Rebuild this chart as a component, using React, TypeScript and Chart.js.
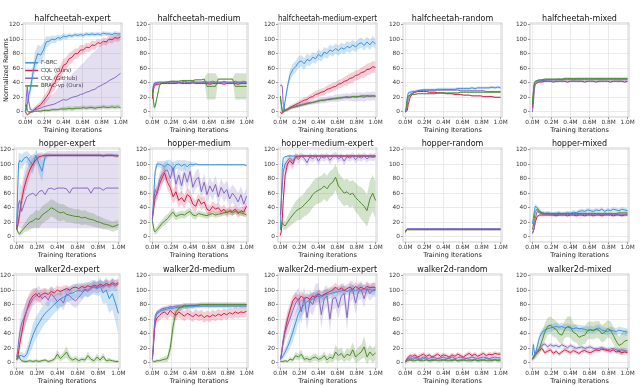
import React, { useEffect, useRef } from "react";
import { Chart, registerables } from "chart.js";
Chart.register(...registerables);

const FONT = "'DejaVu Sans', 'Liberation Sans', sans-serif";

// ---- shared axes data ----
const steps = [0, 0.01, 0.02, 0.03, 0.05, 0.075, 0.1, 0.13, 0.16, 0.19, 0.22, 0.25, 0.28, 0.31, 0.34, 0.37, 0.4, 0.43, 0.46, 0.49, 0.52, 0.55, 0.58, 0.61, 0.64, 0.67, 0.7, 0.73, 0.76, 0.79, 0.82, 0.85, 0.88, 0.91, 0.94, 0.97, 1.0];
const xTickValues = [0, 0.2, 0.4, 0.6, 0.8, 1.0];
const xTickLabels = ["0.0M", "0.2M", "0.4M", "0.6M", "0.8M", "1.0M"];
const yTickValues = [0, 20, 40, 60, 80, 100, 120];
const seriesNames = ["F-BRC", "CQL (Ours)", "CQL (GitHub)", "BRAC-vp (Ours)"];
const panelTitles = [
  "halfcheetah-expert", "halfcheetah-medium", "halfcheetah-medium-expert", "halfcheetah-random", "halfcheetah-mixed",
  "hopper-expert", "hopper-medium", "hopper-medium-expert", "hopper-random", "hopper-mixed",
  "walker2d-expert", "walker2d-medium", "walker2d-medium-expert", "walker2d-random", "walker2d-mixed",
];

// ---- shared band half-widths ----
const bandTight = [1, 1, 1, 1, 1, 1, 1, 1, 1, 1, 1, 1, 1, 1, 1, 1, 1, 1, 1, 1, 1, 1, 1, 1, 1, 1, 1, 1, 1, 1, 1, 1, 1, 1, 1, 1, 1];
const bandSmall = [2, 2, 2, 2, 2, 2, 2, 2, 2, 2, 2, 2, 2, 2, 2, 2, 2, 2, 2, 2, 2, 2, 2, 2, 2, 2, 2, 2, 2, 2, 2, 2, 2, 2, 2, 2, 2];
const bandMid = [3, 3, 3, 3, 3, 3, 3, 3, 3, 3, 3, 3, 3, 3, 3, 3, 3, 3, 3, 3, 3, 3, 3, 3, 3, 3, 3, 3, 3, 3, 3, 3, 3, 3, 3, 3, 3];
const bandEarly = [5, 4, 3, 2, 2, 1, 1, 1, 1, 1, 1, 1, 1, 1, 1, 1, 1, 1, 1, 1, 1, 1, 1, 1, 1, 1, 1, 1, 1, 1, 1, 1, 1, 1, 1, 1, 1];

// ---- halfcheetah-expert ----
const hcExpF = [0, 3, 10, 20, 30, 50, 68, 80, 78, 85, 96, 97, 100, 99, 102, 101, 104, 103, 105, 104, 106, 105, 106, 105, 107, 106, 107, 106, 107, 106, 108, 107, 107, 106, 108, 107, 107];
const hcExpFSd = [1, 3, 5, 8, 10, 12, 14, 12, 12, 10, 8, 6, 5, 5, 4, 4, 4, 4, 3, 3, 3, 3, 3, 3, 3, 3, 3, 3, 3, 3, 3, 3, 3, 3, 3, 3, 3];
const hcExpC = [0, -2, -4, -3, -1, 1, 4, 7, 10, 15, 20, 26, 35, 40, 50, 54, 64, 66, 73, 75, 80, 80, 85, 85, 89, 88, 92, 91, 95, 94, 97, 96, 100, 99, 102, 101, 103];
const hcExpCSd = [1, 2, 2, 2, 2, 2, 3, 4, 5, 6, 7, 8, 9, 10, 10, 10, 9, 9, 8, 8, 7, 7, 7, 6, 6, 6, 6, 6, 5, 5, 5, 5, 5, 5, 5, 5, 5];
const hcExpG = [0, 20, 35, 18, 4, 2, 3, 4, 5, 7, 8, 9, 10, 11, 13, 15, 17, 16, 18, 20, 21, 22, 24, 25, 27, 28, 30, 31, 34, 36, 38, 40, 43, 45, 47, 50, 53];
const hcExpGHi = [2, 5, 5, 5, 3, 3, 4, 5, 6, 8, 10, 12, 14, 16, 20, 22, 26, 28, 30, 32, 35, 37, 40, 42, 45, 48, 50, 52, 54, 56, 58, 58, 58, 58, 57, 55, 52];
const hcExpGLo = [1, 5, 5, 5, 3, 2, 2, 3, 3, 5, 6, 6, 7, 8, 10, 12, 14, 13, 15, 17, 18, 18, 20, 21, 23, 24, 26, 27, 29, 31, 33, 34, 36, 38, 40, 42, 44];
const hcExpB = [8, 10, 2, 0, 0, 0, 1, 1, 1, 2, 2, 2, 3, 3, 3, 4, 4, 4, 5, 4, 5, 5, 5, 6, 5, 6, 6, 5, 6, 6, 7, 6, 6, 7, 6, 7, 6];
const hcExpBSd = [2, 3, 2, 1, 1, 1, 1, 1, 2, 2, 2, 2, 2, 2, 2, 2, 3, 3, 3, 3, 3, 3, 3, 3, 3, 3, 3, 3, 3, 3, 3, 3, 3, 3, 3, 3, 3];

// ---- halfcheetah-medium ----
const hcMedF = [22, 35, 39, 40, 40, 41, 41, 40, 41, 41, 42, 41, 41, 41, 42, 41, 41, 42, 41, 41, 41, 42, 41, 41, 42, 41, 41, 41, 42, 41, 41, 41, 42, 41, 41, 42, 41];
const hcMedC = [18, 30, 35, 37, 38, 38, 39, 39, 39, 39, 39, 39, 40, 39, 39, 39, 39, 40, 39, 39, 39, 39, 39, 38, 39, 39, 39, 39, 38, 39, 39, 39, 39, 38, 39, 39, 39];
const hcMedG = [28, 34, 38, 39, 40, 40, 40, 40, 40, 40, 40, 40, 40, 40, 41, 40, 40, 40, 40, 40, 40, 40, 40, 40, 40, 40, 40, 40, 40, 40, 40, 40, 40, 40, 40, 40, 40];
const hcMedB = [30, 18, 6, 8, 20, 36, 40, 41, 41, 42, 42, 42, 42, 43, 43, 43, 43, 43, 44, 44, 44, 45, 35, 35, 35, 35, 45, 45, 45, 45, 45, 45, 35, 35, 35, 35, 35];
const hcMedBSd = [3, 5, 5, 5, 4, 2, 1, 1, 1, 1, 1, 1, 1, 1, 1, 1, 1, 1, 1, 1, 1, 1, 18, 18, 18, 18, 1, 1, 1, 1, 1, 1, 18, 18, 18, 18, 18];

// ---- halfcheetah-medium-expert ----
const hcMexF = [20, 10, 2, 0, 15, 35, 50, 58, 62, 68, 70, 66, 72, 70, 75, 73, 79, 76, 82, 80, 85, 83, 87, 84, 88, 86, 90, 88, 92, 89, 93, 95, 91, 96, 92, 97, 93];
const hcMexFSd = [5, 5, 3, 2, 5, 6, 8, 8, 8, 8, 8, 8, 8, 7, 7, 7, 7, 7, 7, 7, 7, 7, 7, 7, 7, 7, 7, 7, 7, 7, 7, 7, 7, 7, 7, 7, 7];
const hcMexC = [0, -2, -2, 0, 2, 4, 6, 8, 10, 12, 14, 16, 17, 20, 21, 24, 25, 27, 28, 31, 32, 34, 35, 38, 39, 42, 43, 46, 47, 50, 51, 54, 55, 58, 59, 62, 61];
const hcMexCSd = [2, 2, 2, 2, 2, 2, 3, 3, 3, 3, 4, 4, 4, 4, 5, 5, 5, 5, 5, 5, 6, 6, 6, 6, 6, 6, 7, 7, 7, 7, 7, 7, 8, 8, 8, 8, 8];
const hcMexG = [36, 37, 35, 10, 2, 3, 5, 7, 8, 9, 10, 11, 12, 13, 13, 14, 15, 16, 16, 17, 18, 18, 19, 19, 20, 20, 21, 20, 21, 20, 21, 21, 20, 22, 21, 22, 21];
const hcMexGSd = [2, 2, 2, 3, 2, 2, 2, 2, 3, 3, 3, 3, 3, 3, 3, 3, 4, 4, 4, 4, 4, 4, 5, 5, 5, 5, 5, 5, 6, 6, 6, 6, 6, 6, 6, 6, 6];
const hcMexB = [22, 10, 0, 1, 2, 3, 5, 6, 7, 8, 9, 10, 11, 12, 13, 14, 15, 16, 16, 17, 17, 18, 18, 19, 19, 20, 20, 20, 21, 21, 21, 22, 22, 22, 22, 22, 22];

// ---- halfcheetah-random ----
const hcRndF = [0, 5, 20, 26, 27, 28, 28, 29, 29, 30, 30, 30, 30, 30, 31, 31, 31, 31, 31, 31, 31, 32, 32, 32, 32, 32, 33, 32, 33, 33, 33, 33, 33, 34, 33, 34, 33];
const hcRndC = [0, 1, 2, 10, 20, 25, 27, 28, 28, 28, 28, 27, 27, 27, 26, 26, 26, 25, 25, 25, 24, 24, 24, 23, 23, 23, 22, 22, 22, 22, 21, 21, 21, 21, 20, 20, 20];
const hcRndG = [0, 2, 8, 18, 24, 26, 27, 29, 30, 30, 30, 30, 30, 30, 30, 30, 30, 30, 30, 30, 30, 30, 29, 29, 29, 29, 29, 29, 29, 29, 29, 28, 28, 28, 28, 28, 28];
const hcRndB = [0, 8, 18, 22, 23, 24, 24, 25, 25, 25, 25, 25, 25, 25, 26, 26, 26, 26, 26, 26, 26, 26, 27, 27, 27, 27, 27, 27, 27, 27, 27, 27, 27, 27, 27, 27, 27];

// ---- halfcheetah-mixed ----
const hcMixF = [10, 25, 38, 41, 42, 43, 43, 44, 44, 44, 44, 44, 45, 44, 45, 45, 45, 44, 45, 45, 45, 45, 45, 45, 45, 45, 45, 45, 45, 45, 45, 45, 45, 45, 45, 45, 45];
const hcMixC = [5, 20, 35, 38, 40, 41, 41, 42, 42, 42, 41, 42, 42, 42, 42, 41, 42, 42, 42, 42, 42, 41, 42, 42, 42, 41, 42, 42, 42, 42, 41, 42, 42, 42, 42, 41, 42];
const hcMixG = [0, 10, 30, 38, 40, 42, 43, 43, 44, 44, 44, 44, 44, 44, 44, 44, 44, 44, 44, 44, 44, 44, 44, 44, 44, 44, 44, 44, 44, 44, 44, 44, 44, 44, 44, 44, 44];
const hcMixB = [12, 28, 40, 42, 43, 44, 44, 45, 45, 45, 45, 45, 45, 45, 46, 46, 46, 46, 46, 46, 46, 46, 46, 46, 46, 46, 46, 46, 46, 46, 46, 46, 46, 46, 46, 46, 46];

// ---- hopper-expert ----
const hoExpF = [10, 60, 100, 105, 103, 108, 110, 104, 98, 112, 100, 90, 110, 112, 112, 112, 112, 112, 112, 112, 112, 112, 112, 112, 112, 112, 112, 112, 112, 112, 112, 112, 112, 112, 112, 112, 112];
const hoExpFSd = [5, 20, 15, 10, 10, 8, 8, 10, 12, 8, 12, 15, 6, 3, 2, 2, 2, 2, 2, 2, 2, 2, 2, 2, 2, 2, 2, 2, 2, 2, 2, 2, 2, 2, 2, 2, 2];
const hoExpC = [10, 15, 22, 32, 50, 68, 80, 92, 100, 106, 110, 111, 112, 112, 112, 112, 112, 112, 112, 112, 112, 112, 112, 112, 112, 112, 112, 112, 112, 112, 112, 111, 112, 112, 112, 111, 111];
const hoExpCSd = [3, 5, 8, 10, 12, 12, 12, 10, 8, 6, 4, 3, 2, 2, 2, 2, 2, 2, 2, 2, 2, 2, 2, 2, 2, 2, 2, 2, 2, 2, 2, 2, 2, 2, 2, 2, 2];
const hoExpG = [15, 30, 45, 50, 35, 45, 55, 58, 60, 56, 62, 64, 58, 66, 67, 65, 67, 67, 67, 66, 60, 67, 67, 67, 67, 67, 67, 60, 67, 67, 67, 64, 67, 67, 67, 67, 67];
const hoExpGHi = [5, 10, 15, 25, 35, 45, 50, 52, 54, 56, 54, 52, 56, 52, 51, 53, 51, 51, 51, 52, 58, 51, 51, 51, 51, 51, 51, 58, 51, 51, 51, 54, 51, 51, 51, 51, 51];
const hoExpGLo = [3, 15, 30, 38, 23, 33, 43, 46, 48, 44, 50, 52, 46, 54, 55, 53, 55, 55, 55, 54, 48, 55, 55, 55, 55, 55, 55, 48, 55, 55, 55, 52, 55, 55, 55, 55, 55];
const hoExpB = [15, 8, 5, 4, 8, 12, 16, 20, 22, 25, 24, 30, 33, 36, 40, 38, 35, 33, 34, 31, 30, 29, 28, 28, 26, 27, 25, 24, 23, 21, 20, 18, 17, 16, 14, 15, 17];
const hoExpBSd = [3, 3, 3, 3, 5, 6, 8, 10, 10, 12, 12, 12, 12, 12, 12, 12, 12, 12, 11, 11, 10, 10, 10, 10, 10, 10, 9, 9, 9, 8, 8, 8, 7, 7, 7, 7, 7];

// ---- hopper-medium ----
const hoMedF = [22, 45, 70, 90, 100, 100, 99, 96, 100, 98, 92, 99, 100, 97, 100, 96, 100, 99, 100, 99, 99, 99, 99, 99, 99, 99, 99, 99, 99, 99, 99, 99, 99, 99, 99, 99, 98];
const hoMedFSd = [3, 8, 10, 8, 4, 4, 5, 8, 6, 8, 10, 6, 6, 8, 6, 8, 4, 3, 2, 1, 1, 1, 1, 1, 1, 1, 1, 1, 1, 1, 1, 1, 1, 1, 1, 1, 1];
const hoMedC = [25, 35, 45, 55, 60, 72, 80, 88, 75, 68, 55, 62, 50, 54, 48, 58, 55, 45, 42, 52, 45, 48, 38, 36, 42, 38, 40, 35, 38, 33, 36, 35, 38, 32, 36, 34, 42];
const hoMedCSd = [5, 8, 10, 10, 10, 10, 10, 10, 10, 10, 10, 10, 10, 9, 9, 9, 9, 9, 8, 8, 8, 8, 7, 7, 7, 7, 7, 6, 6, 6, 6, 6, 6, 6, 6, 6, 6];
const hoMedG = [25, 40, 55, 65, 60, 78, 85, 90, 92, 80, 95, 72, 85, 70, 88, 75, 90, 68, 78, 82, 62, 75, 58, 70, 62, 72, 55, 68, 60, 65, 52, 60, 55, 48, 58, 45, 56];
const hoMedGSd = [5, 10, 10, 10, 10, 10, 12, 12, 12, 12, 12, 12, 12, 12, 12, 12, 12, 12, 12, 12, 12, 12, 12, 12, 12, 12, 12, 12, 12, 12, 12, 12, 12, 12, 12, 12, 12];
const hoMedB = [22, 15, 8, 7, 10, 14, 18, 22, 25, 30, 34, 28, 30, 31, 30, 33, 35, 30, 29, 32, 31, 30, 29, 31, 32, 30, 31, 32, 33, 34, 35, 33, 35, 34, 33, 32, 30];
const hoMedBSd = [3, 4, 4, 4, 5, 5, 5, 6, 6, 6, 6, 5, 5, 5, 5, 5, 5, 5, 5, 4, 4, 4, 4, 4, 4, 4, 4, 4, 4, 4, 4, 4, 4, 4, 4, 4, 4];

// ---- hopper-medium-expert ----
const hoMexF = [10, 50, 95, 108, 110, 111, 111, 111, 111, 111, 111, 111, 111, 111, 111, 111, 111, 111, 111, 111, 111, 111, 111, 111, 111, 111, 111, 111, 111, 111, 111, 111, 111, 111, 111, 111, 111];
const hoMexC = [2, 8, 25, 50, 85, 100, 105, 100, 110, 110, 111, 111, 111, 111, 111, 111, 111, 111, 111, 111, 111, 111, 111, 111, 111, 111, 111, 111, 111, 111, 111, 111, 111, 111, 111, 111, 111];
const hoMexCSd = [2, 4, 8, 10, 10, 8, 6, 8, 4, 3, 2, 2, 2, 2, 2, 2, 2, 2, 2, 2, 2, 2, 2, 2, 2, 2, 2, 2, 2, 2, 2, 2, 2, 2, 2, 2, 2];
const hoMexG = [30, 50, 70, 90, 100, 105, 108, 104, 110, 106, 111, 108, 102, 110, 107, 111, 104, 110, 108, 111, 105, 110, 112, 107, 110, 104, 110, 108, 111, 106, 110, 108, 111, 107, 110, 109, 110];
const hoMexGSd = [5, 10, 10, 10, 8, 6, 6, 6, 6, 6, 5, 5, 6, 5, 5, 5, 6, 5, 5, 5, 6, 5, 5, 5, 5, 6, 5, 5, 5, 5, 5, 5, 5, 5, 5, 5, 5];
const hoMexB = [10, 14, 20, 17, 15, 20, 25, 30, 35, 38, 40, 44, 48, 52, 58, 62, 64, 66, 70, 66, 72, 75, 82, 70, 65, 60, 62, 58, 60, 54, 50, 46, 42, 36, 52, 60, 50];
const hoMexBSd = [3, 5, 6, 6, 6, 8, 10, 12, 14, 15, 16, 16, 18, 18, 18, 18, 18, 18, 18, 18, 18, 18, 18, 18, 18, 18, 18, 18, 18, 20, 20, 22, 22, 22, 25, 25, 25];

// ---- hopper-random ----
const hoRndF = [8, 10, 11, 11, 11, 11, 11, 11, 11, 11, 11, 11, 11, 11, 11, 11, 11, 11, 11, 11, 11, 11, 11, 11, 11, 11, 11, 11, 11, 11, 11, 11, 11, 11, 11, 11, 11];
const hoRndC = [6, 9, 10, 10, 10, 10, 10, 10, 10, 10, 10, 10, 10, 10, 10, 10, 10, 10, 10, 10, 10, 10, 10, 10, 10, 10, 10, 10, 10, 10, 10, 10, 10, 10, 10, 10, 10];
const hoRndG = [7, 10, 11, 11, 11, 11, 11, 11, 11, 11, 11, 11, 11, 11, 11, 11, 11, 11, 11, 11, 11, 11, 11, 11, 11, 11, 11, 11, 11, 11, 11, 11, 11, 11, 11, 11, 11];
const hoRndB = [7, 9, 10, 10, 10, 10, 10, 10, 10, 10, 10, 10, 10, 10, 10, 10, 10, 10, 10, 10, 10, 10, 10, 10, 10, 10, 10, 10, 10, 10, 10, 10, 10, 10, 10, 10, 10];

// ---- hopper-mixed ----
const hoMixF = [18, 25, 35, 42, 40, 36, 33, 32, 33, 32, 31, 32, 33, 31, 32, 33, 32, 34, 33, 35, 36, 35, 37, 36, 35, 37, 36, 38, 35, 37, 36, 38, 37, 36, 38, 37, 36];
const hoMixC = [5, 8, 12, 20, 28, 30, 30, 30, 30, 30, 30, 29, 30, 30, 30, 29, 30, 30, 29, 30, 30, 29, 30, 30, 29, 30, 30, 29, 30, 30, 30, 29, 30, 30, 29, 30, 30];
const hoMixG = [5, 8, 12, 25, 35, 33, 32, 32, 31, 31, 31, 31, 31, 31, 31, 31, 31, 31, 31, 31, 31, 31, 31, 31, 31, 31, 31, 31, 31, 31, 31, 31, 31, 31, 31, 31, 31];
const hoMixB = [10, 15, 25, 35, 38, 34, 33, 32, 32, 32, 32, 32, 32, 32, 32, 32, 32, 32, 32, 32, 32, 32, 32, 32, 32, 32, 32, 32, 32, 32, 32, 32, 32, 33, 33, 33, 33];

// ---- walker2d-expert ----
const waExpF = [5, 5, 8, 10, 10, 8, 12, 25, 38, 48, 55, 62, 68, 72, 76, 80, 84, 88, 90, 92, 95, 96, 98, 100, 98, 101, 100, 103, 104, 102, 105, 96, 100, 88, 95, 82, 68];
const waExpFSd = [3, 3, 4, 5, 5, 5, 8, 12, 15, 15, 15, 15, 14, 14, 13, 12, 12, 12, 12, 10, 10, 10, 10, 10, 10, 10, 10, 10, 10, 10, 12, 15, 18, 20, 22, 25, 30];
const waExpC = [5, 8, 15, 25, 40, 60, 72, 85, 92, 95, 90, 94, 96, 94, 98, 96, 100, 98, 100, 102, 100, 103, 104, 102, 105, 103, 106, 104, 107, 105, 108, 106, 109, 107, 110, 108, 110];
const waExpCSd = [3, 5, 8, 10, 12, 15, 15, 12, 10, 8, 8, 8, 7, 7, 7, 6, 6, 6, 6, 5, 5, 5, 5, 5, 5, 5, 5, 5, 5, 5, 5, 5, 5, 5, 5, 5, 5];
const waExpG = [8, 15, 30, 40, 55, 62, 72, 80, 88, 92, 96, 88, 92, 86, 95, 90, 84, 88, 82, 95, 92, 88, 85, 90, 95, 100, 98, 102, 105, 103, 106, 104, 107, 105, 108, 106, 108];
const waExpGSd = [3, 5, 10, 15, 15, 15, 15, 12, 10, 10, 10, 10, 10, 10, 10, 10, 10, 10, 10, 10, 10, 10, 10, 10, 10, 8, 8, 8, 8, 8, 8, 8, 8, 8, 8, 8, 8];
const waExpB = [5, 8, 10, 6, 3, 2, 2, 3, 2, 3, 2, 3, 4, 2, 3, 5, 12, 6, 10, 15, 7, 4, 6, 3, 5, 4, 10, 5, 3, 8, 4, 9, 3, 4, 3, 2, 2];
const waExpBSd = [2, 2, 3, 3, 2, 2, 2, 2, 2, 2, 2, 2, 2, 2, 2, 3, 6, 4, 5, 8, 5, 3, 4, 3, 3, 3, 5, 3, 3, 5, 3, 5, 3, 3, 2, 2, 2];

// ---- walker2d-medium ----
const waMedF = [5, 20, 45, 60, 68, 70, 72, 73, 74, 75, 75, 76, 76, 76, 77, 77, 77, 77, 78, 78, 78, 78, 78, 78, 78, 78, 78, 78, 78, 78, 78, 78, 78, 78, 78, 78, 78];
const waMedC = [5, 20, 40, 55, 62, 65, 68, 70, 66, 72, 68, 65, 70, 67, 64, 68, 66, 63, 67, 64, 66, 62, 65, 63, 66, 64, 67, 65, 68, 66, 69, 67, 70, 68, 70, 69, 71];
const waMedCSd = [3, 5, 7, 7, 7, 7, 7, 7, 7, 7, 7, 7, 7, 7, 7, 7, 7, 7, 7, 7, 7, 7, 7, 7, 7, 7, 7, 7, 7, 7, 7, 7, 7, 7, 7, 7, 7];
const waMedG = [5, 25, 50, 65, 70, 72, 74, 75, 76, 77, 77, 78, 78, 78, 79, 79, 79, 79, 79, 80, 80, 80, 80, 80, 80, 80, 80, 80, 80, 80, 80, 80, 80, 80, 80, 80, 80];
const waMedB = [3, 2, 2, 2, 3, 3, 4, 5, 6, 20, 50, 70, 75, 77, 78, 78, 79, 79, 79, 79, 80, 80, 80, 80, 80, 80, 80, 80, 80, 80, 80, 80, 80, 80, 80, 80, 80];
const waMedBSd = [2, 2, 2, 2, 2, 2, 3, 4, 5, 10, 15, 8, 5, 4, 4, 4, 3, 3, 3, 3, 3, 3, 3, 3, 3, 3, 3, 3, 3, 3, 3, 3, 3, 3, 3, 3, 3];

// ---- walker2d-medium-expert ----
const waMexF = [5, 6, 8, 10, 15, 22, 30, 42, 55, 68, 75, 80, 84, 86, 88, 90, 92, 90, 93, 94, 95, 96, 97, 98, 99, 100, 98, 100, 101, 99, 101, 100, 102, 100, 101, 99, 100];
const waMexFSd = [3, 3, 4, 5, 6, 8, 10, 12, 14, 14, 12, 10, 10, 9, 8, 8, 8, 8, 7, 7, 7, 7, 7, 6, 6, 6, 6, 6, 6, 6, 6, 6, 6, 6, 6, 6, 6];
const waMexC = [5, 10, 20, 30, 45, 60, 72, 85, 90, 86, 92, 88, 90, 87, 92, 90, 95, 92, 94, 96, 98, 100, 104, 100, 103, 99, 102, 104, 101, 105, 102, 104, 101, 105, 103, 104, 103];
const waMexCSd = [3, 5, 8, 10, 12, 12, 10, 8, 7, 7, 7, 6, 6, 6, 6, 6, 6, 6, 6, 6, 6, 6, 6, 6, 6, 6, 6, 6, 6, 6, 6, 6, 6, 6, 6, 6, 6];
const waMexG = [5, 12, 22, 32, 42, 52, 60, 72, 82, 88, 70, 90, 62, 85, 80, 93, 95, 66, 88, 92, 60, 88, 90, 76, 92, 95, 62, 98, 100, 82, 98, 100, 88, 102, 95, 100, 101];
const waMexGSd = [3, 5, 8, 10, 12, 14, 15, 15, 15, 15, 18, 15, 18, 15, 15, 15, 15, 18, 15, 15, 18, 15, 15, 15, 15, 15, 18, 15, 12, 15, 12, 12, 12, 10, 10, 10, 10];
const waMexB = [2, 2, 2, 2, 3, 2, 5, 4, 10, 8, 12, 5, 6, 4, 7, 8, 5, 6, 10, 4, 8, 6, 15, 10, 13, 7, 12, 10, 18, 8, 12, 15, 22, 8, 15, 10, 14];
const waMexBSd = [2, 2, 2, 2, 2, 2, 3, 3, 5, 5, 6, 4, 4, 4, 5, 5, 4, 4, 6, 5, 6, 5, 10, 8, 8, 6, 8, 8, 10, 8, 10, 10, 15, 10, 10, 10, 10];

// ---- walker2d-random ----
const waRndF = [2, 3, 4, 5, 5, 4, 6, 5, 4, 6, 5, 3, 5, 4, 6, 5, 4, 5, 6, 4, 5, 3, 5, 4, 6, 5, 4, 5, 3, 5, 4, 6, 5, 4, 5, 4, 5];
const waRndC = [2, 4, 6, 8, 10, 9, 11, 8, 10, 12, 9, 11, 8, 10, 12, 9, 11, 10, 8, 11, 9, 12, 10, 8, 11, 13, 10, 12, 9, 11, 13, 10, 12, 11, 13, 12, 12];
const waRndG = [2, 3, 5, 6, 7, 6, 8, 7, 6, 8, 7, 6, 8, 7, 6, 7, 8, 6, 7, 8, 6, 7, 8, 7, 6, 7, 8, 7, 6, 7, 8, 7, 6, 7, 8, 7, 7];
const waRndB = [1, 2, 3, 3, 4, 3, 3, 4, 3, 3, 4, 3, 3, 4, 3, 3, 4, 3, 3, 3, 4, 3, 3, 4, 3, 3, 3, 4, 3, 3, 4, 3, 3, 3, 4, 3, 3];

// ---- walker2d-mixed ----
const waMixF = [10, 25, 15, 12, 22, 35, 42, 45, 47, 48, 49, 50, 49, 50, 48, 49, 48, 47, 48, 47, 47, 46, 45, 46, 45, 47, 48, 45, 44, 43, 45, 44, 43, 45, 44, 43, 42];
const waMixFSd = [4, 5, 5, 5, 5, 5, 5, 5, 5, 5, 5, 5, 5, 5, 5, 5, 5, 5, 5, 5, 5, 5, 5, 5, 5, 5, 5, 5, 5, 5, 5, 5, 5, 5, 5, 5, 5];
const waMixC = [5, 8, 10, 12, 15, 17, 20, 14, 16, 18, 13, 16, 12, 15, 18, 16, 14, 17, 15, 13, 16, 17, 15, 14, 16, 18, 17, 19, 18, 17, 16, 18, 15, 16, 14, 15, 14];
const waMixG = [5, 8, 10, 12, 15, 20, 24, 26, 22, 25, 23, 24, 22, 25, 23, 21, 24, 22, 20, 21, 22, 20, 21, 22, 20, 19, 20, 21, 19, 18, 19, 20, 18, 17, 18, 17, 16];
const waMixB = [5, 6, 8, 10, 14, 20, 30, 42, 50, 52, 48, 46, 40, 38, 46, 50, 49, 42, 40, 35, 37, 38, 44, 45, 44, 46, 45, 40, 42, 47, 45, 38, 30, 24, 26, 30, 31];
const waMixBSd = [3, 3, 4, 5, 6, 8, 10, 12, 12, 12, 12, 12, 12, 12, 12, 14, 15, 13, 12, 12, 12, 12, 12, 12, 12, 12, 12, 12, 12, 12, 12, 12, 12, 12, 15, 15, 15];

// panel table: [lines F, C, G, B], bands [[upper, lower?]]
type Band = [number[], number[]?];
const panels: { lines: number[][]; bands: Band[] }[] = [
  { lines: [hcExpF, hcExpC, hcExpG, hcExpB], bands: [[hcExpFSd], [hcExpCSd], [hcExpGHi, hcExpGLo], [hcExpBSd]] },
  { lines: [hcMedF, hcMedC, hcMedG, hcMedB], bands: [[bandEarly], [bandEarly], [bandEarly], [hcMedBSd]] },
  { lines: [hcMexF, hcMexC, hcMexG, hcMexB], bands: [[hcMexFSd], [hcMexCSd], [hcMexGSd], [bandSmall]] },
  { lines: [hcRndF, hcRndC, hcRndG, hcRndB], bands: [[bandSmall], [bandTight], [bandTight], [bandTight]] },
  { lines: [hcMixF, hcMixC, hcMixG, hcMixB], bands: [[bandSmall], [bandTight], [bandTight], [bandTight]] },
  { lines: [hoExpF, hoExpC, hoExpG, hoExpB], bands: [[hoExpFSd], [hoExpCSd], [hoExpGHi, hoExpGLo], [hoExpBSd]] },
  { lines: [hoMedF, hoMedC, hoMedG, hoMedB], bands: [[hoMedFSd], [hoMedCSd], [hoMedGSd], [hoMedBSd]] },
  { lines: [hoMexF, hoMexC, hoMexG, hoMexB], bands: [[bandTight], [hoMexCSd], [hoMexGSd], [hoMexBSd]] },
  { lines: [hoRndF, hoRndC, hoRndG, hoRndB], bands: [[bandTight], [bandTight], [bandTight], [bandTight]] },
  { lines: [hoMixF, hoMixC, hoMixG, hoMixB], bands: [[bandMid], [bandSmall], [bandSmall], [bandSmall]] },
  { lines: [waExpF, waExpC, waExpG, waExpB], bands: [[waExpFSd], [waExpCSd], [waExpGSd], [waExpBSd]] },
  { lines: [waMedF, waMedC, waMedG, waMedB], bands: [[bandMid], [waMedCSd], [bandMid], [waMedBSd]] },
  { lines: [waMexF, waMexC, waMexG, waMexB], bands: [[waMexFSd], [waMexCSd], [waMexGSd], [waMexBSd]] },
  { lines: [waRndF, waRndC, waRndG, waRndB], bands: [[bandSmall], [bandMid], [bandSmall], [bandSmall]] },
  { lines: [waMixF, waMixC, waMixG, waMixB], bands: [[waMixFSd], [bandMid], [bandMid], [waMixBSd]] },
];

// ---- styling / layout ----
const lineColors = ["rgb(58,146,216)", "rgb(208,32,72)", "rgb(132,104,192)", "rgb(78,140,44)"];
const bandColors = ["rgba(58,146,216,0.25)", "rgba(208,32,72,0.22)", "rgba(132,104,192,0.22)", "rgba(78,140,44,0.25)"];
const rowTop = [23, 148, 274];
const PLOT_H = 94;
const colGeom = [
  { pl: 150, pw: 98 },
  { pl: 150, pw: 98 },
  { pl: 278, pw: 99 },
  { pl: 403, pw: 99 },
  { pl: 530, pw: 99 },
];
const TH = 9; // title block
const XH = 17; // x axis block
const RP = 9; // right padding

function geom(row: number, col: number) {
  let pl = colGeom[col].pl;
  let pw = colGeom[col].pw;
  let yw = 16;
  if (col === 0) {
    if (row === 0) { pl = 23; pw = 99; yw = 23; }
    else { pl = 14; pw = 106; yw = 14; }
  }
  const left = pl - yw;
  const top = rowTop[row] - TH;
  return { left, top, width: yw + pw + RP, height: TH + PLOT_H + XH, yw };
}

const framePlugin = {
  id: "frame",
  beforeDatasetsDraw(chart: any) {
    const { ctx, chartArea: a } = chart;
    ctx.save();
    ctx.strokeStyle = "#c4c4c4";
    ctx.lineWidth = 0.8;
    ctx.strokeRect(a.left, a.top, a.right - a.left, a.bottom - a.top);
    ctx.restore();
  },
};

function legendLabels(chart: any) {
  const base = (Chart.defaults as any).plugins.legend.labels.generateLabels(chart);
  return base
    .filter((it: any) => it.datasetIndex < 4)
    .sort((a: any, b: any) => a.datasetIndex - b.datasetIndex)
    .map((it: any) => ({ ...it, lineWidth: 1.5 }));
}

function Panel({ index }: { index: number }) {
  const ref = useRef<HTMLCanvasElement | null>(null);
  const row = Math.floor(index / 5);
  const col = index % 5;
  const g = geom(row, col);
  useEffect(() => {
    const panel = panels[index];
    const datasets: any[] = [];
    panel.lines.forEach((vals, s) => {
      datasets.push({
        label: seriesNames[s],
        data: steps.map((x, i) => ({ x, y: vals[i] })),
        borderColor: lineColors[s],
        backgroundColor: lineColors[s],
        borderWidth: 1,
        pointRadius: 0,
        pointStyle: "line",
        fill: false,
        order: 4 - s,
      });
    });
    panel.bands.forEach(([hi, lo], s) => {
      const vals = panel.lines[s];
      const low = lo ?? hi;
      datasets.push({
        label: "",
        data: steps.map((x, i) => ({ x, y: vals[i] + hi[i] })),
        borderColor: "transparent",
        borderWidth: 0,
        pointRadius: 0,
        fill: false,
        order: 10,
      });
      datasets.push({
        label: "",
        data: steps.map((x, i) => ({ x, y: vals[i] - low[i] })),
        borderColor: "transparent",
        borderWidth: 0,
        pointRadius: 0,
        fill: "-1",
        backgroundColor: bandColors[s],
        order: 10,
      });
    });
    const tickFont = { family: FONT, size: 5.8, lineHeight: 1 };
    const chart = new Chart(ref.current as HTMLCanvasElement, {
      type: "line",
      data: { datasets },
      plugins: [framePlugin],
      options: {
        responsive: false,
        animation: false,
        events: [],
        layout: { padding: { left: 0, right: RP, top: 0, bottom: 0 } },
        plugins: {
          tooltip: { enabled: false },
          title: {
            display: true,
            text: panelTitles[index],
            fullSize: false,
            color: "#111",
            font: { family: FONT, size: 8, lineHeight: 1, weight: "normal" },
            padding: { top: 0.5, bottom: 0.5 },
          },
          legend: index === 0
            ? {
                display: true,
                position: "chartArea",
                align: "center",
                title: { display: true, text: "", font: { family: FONT, size: 6, lineHeight: 1 }, padding: { top: 20.7, bottom: 0 } },
                labels: {
                  generateLabels: legendLabels,
                  usePointStyle: true,
                  pointStyle: "line",
                  pointStyleWidth: 13,
                  boxHeight: 5.5,
                  color: "#333",
                  font: { family: FONT, size: 5.5 },
                  padding: 2.2,
                },
              }
            : { display: false },
        },
        scales: {
          x: {
            type: "linear",
            min: -0.025,
            max: 1.015,
            afterBuildTicks: (s: any) => { s.ticks = xTickValues.map((v) => ({ value: v })); },
            afterFit: (s: any) => { s.height = XH; },
            ticks: {
              callback: (_v: any, i: number) => xTickLabels[i],
              font: tickFont,
              color: "#333",
              padding: 1,
              maxRotation: 0,
              autoSkip: false,
            },
            grid: { color: "#e4e4e4", tickColor: "#777", tickLength: 2, lineWidth: 0.8 },
            border: { display: false },
            title: {
              display: true,
              text: "Training Iterations",
              color: "#222",
              font: { family: FONT, size: 6.5, lineHeight: 1 },
              padding: { top: 0, bottom: 0.5 },
            },
          },
          y: {
            type: "linear",
            min: -7,
            max: 122,
            afterBuildTicks: (s: any) => { s.ticks = yTickValues.map((v) => ({ value: v })); },
            afterFit: (s: any) => { s.width = g.yw; },
            ticks: { font: tickFont, color: "#333", padding: 1, autoSkip: false },
            grid: { color: "#e4e4e4", tickColor: "#777", tickLength: 2, lineWidth: 0.8 },
            border: { display: false },
            title: index === 0
              ? {
                  display: true,
                  text: "Normalized Returns",
                  color: "#222",
                  font: { family: FONT, size: 6.5, lineHeight: 1 },
                  padding: { top: 2.75, bottom: 0 },
                }
              : { display: false },
          },
        },
      } as any,
    });
    return () => chart.destroy();
  }, [index]);
  return (
    <canvas
      ref={ref}
      width={g.width}
      height={g.height}
      style={{ position: "absolute", left: g.left, top: g.top, width: g.width, height: g.height }}
    />
  );
}

export default function App() {
  return (
    <div style={{ position: "absolute", left: 0, top: 0, width: 640, height: 385, background: "#fff", overflow: "hidden" }}>
      {panelTitles.map((_, i) => (
        <Panel key={i} index={i} />
      ))}
    </div>
  );
}
